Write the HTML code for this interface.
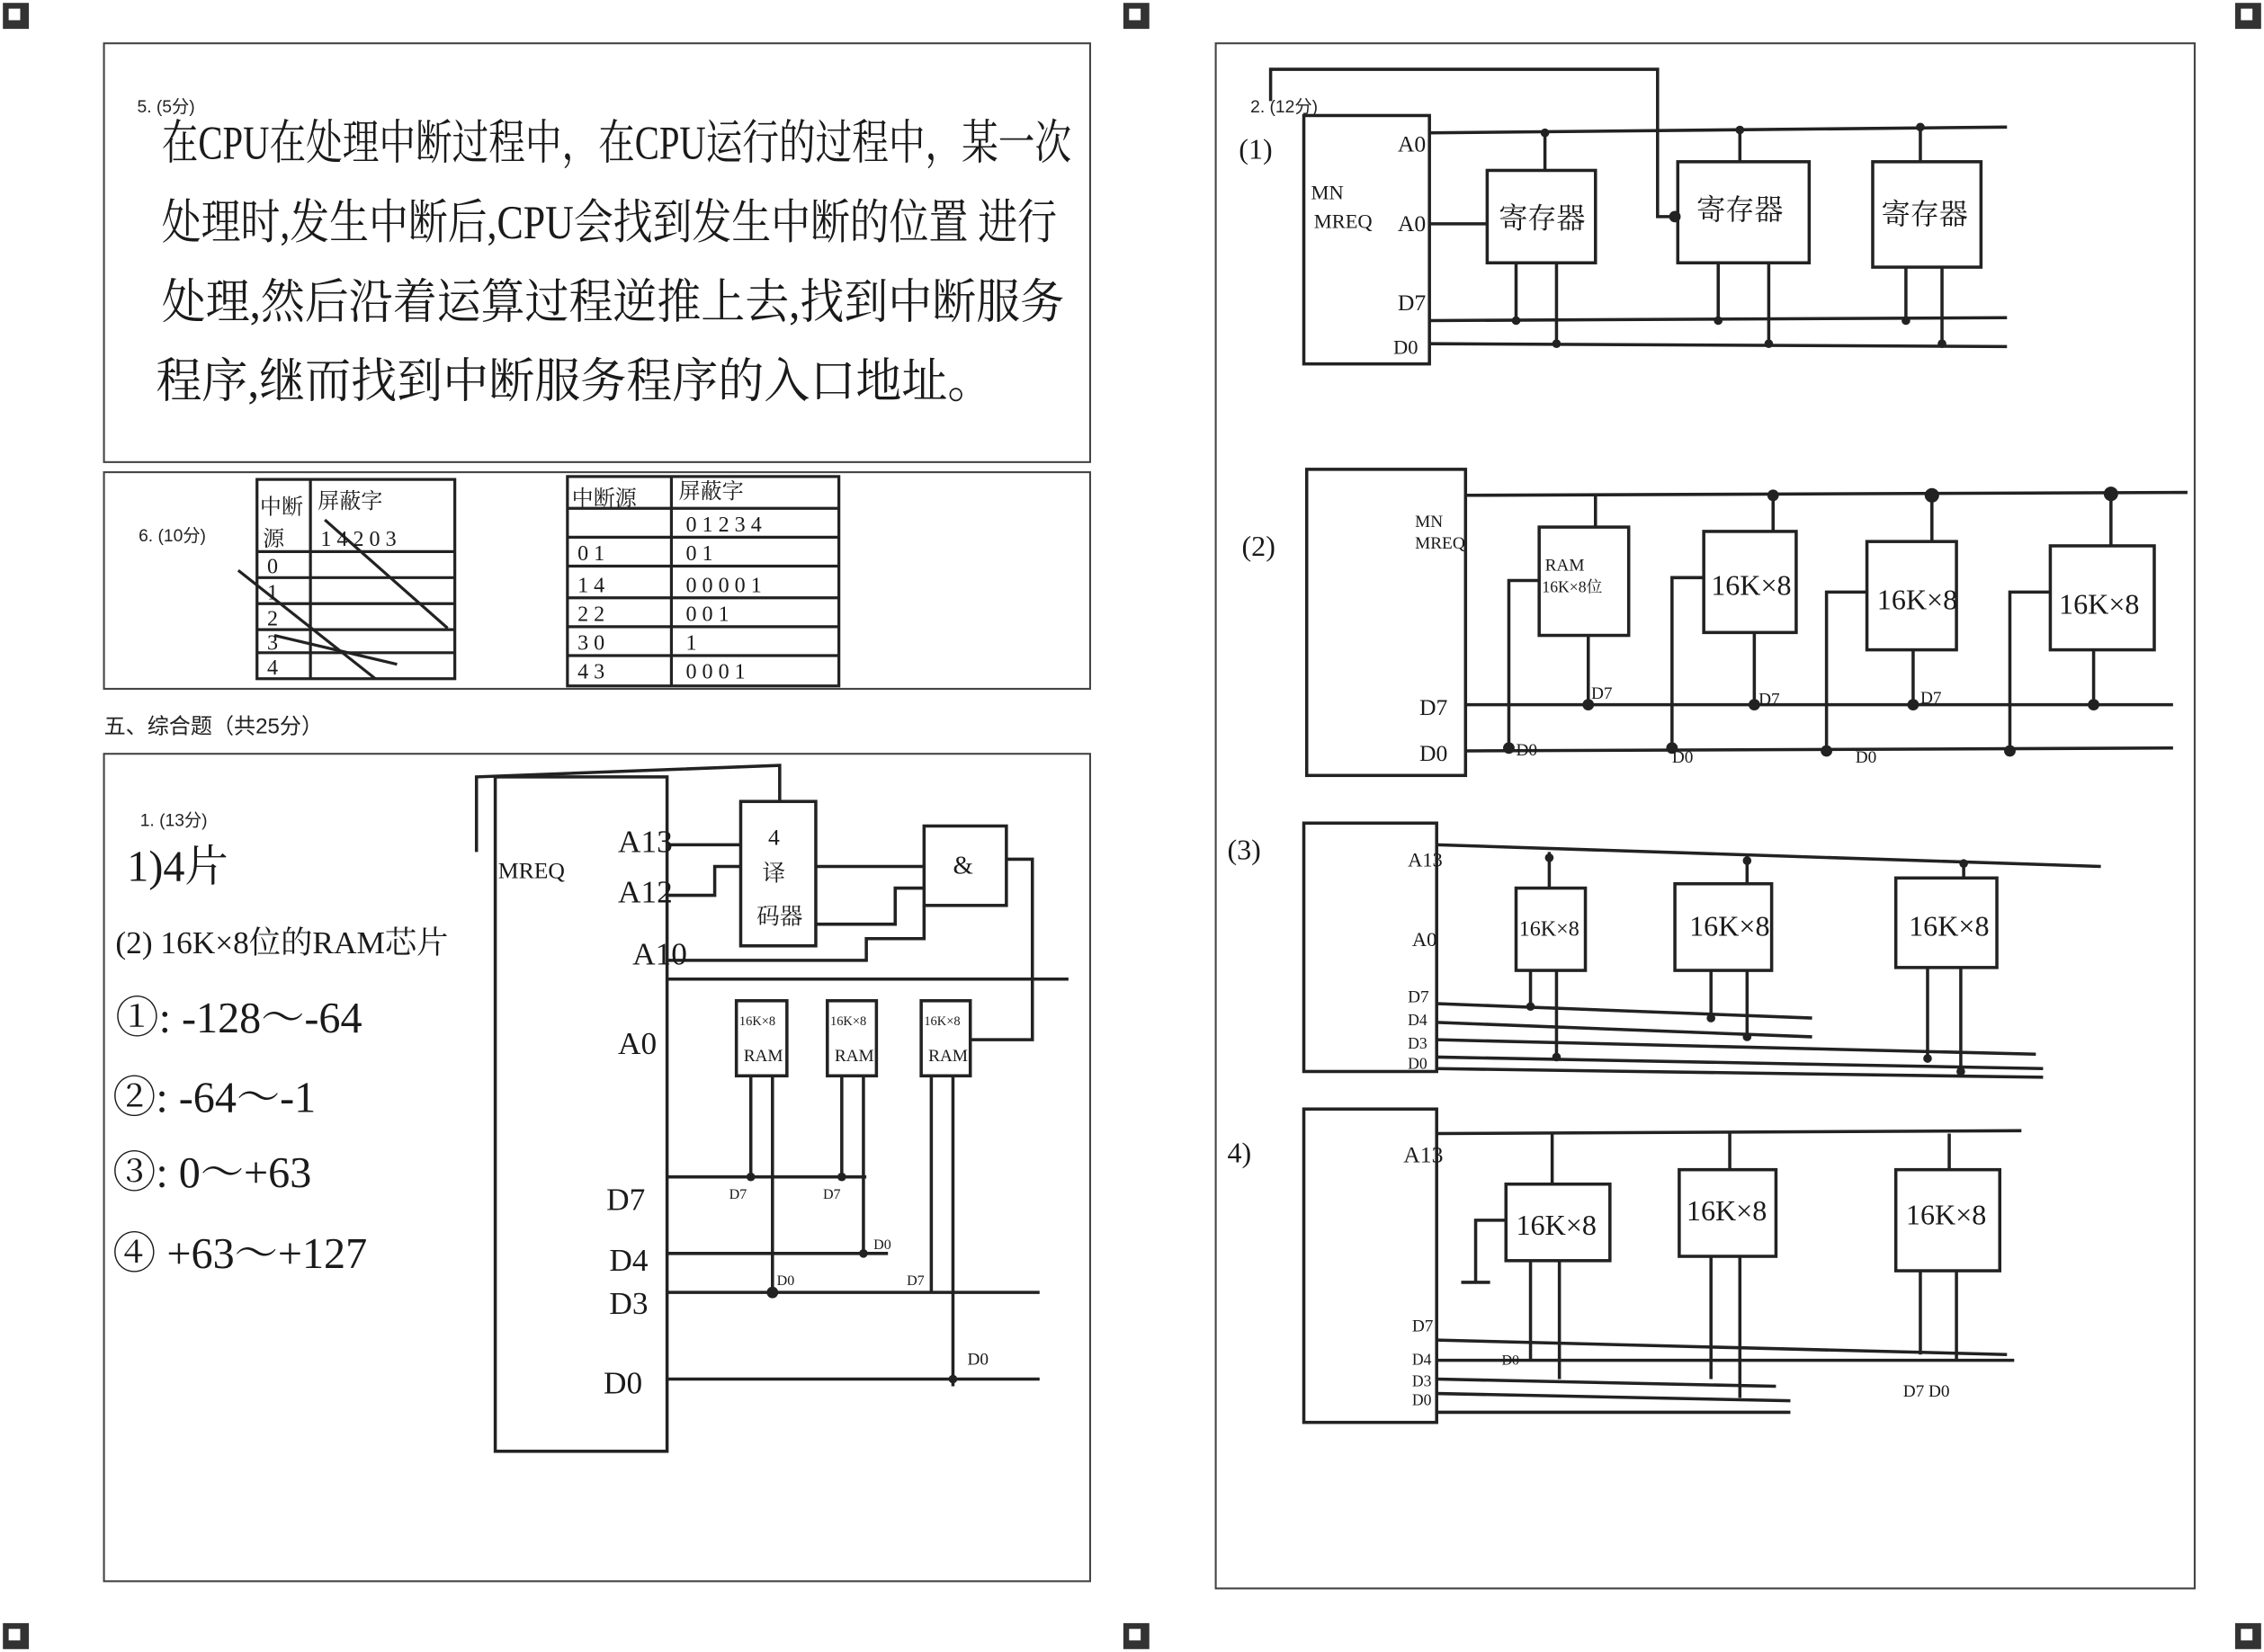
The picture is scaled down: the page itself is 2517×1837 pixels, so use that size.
<!DOCTYPE html>
<html><head><meta charset="utf-8"><style>
html,body{margin:0;padding:0;background:#fff;}
svg{display:block;}
text{font-family:"Liberation Sans","Noto Sans CJK SC",sans-serif;fill:#222;}
.h{font-family:"Liberation Serif","Noto Serif CJK SC","Noto Sans CJK SC",serif;fill:#1a1a1a;}
</style></head><body>
<svg width="2517" height="1837" viewBox="0 0 1568 1144" preserveAspectRatio="none" xmlns="http://www.w3.org/2000/svg">
<rect width="1568" height="1144" fill="#fff"/>
<g fill="#333">
<rect x="2" y="2" width="18" height="18"/><rect x="778" y="2" width="18" height="18"/><rect x="1548" y="2" width="18" height="18"/>
<rect x="2" y="1124" width="18" height="18"/><rect x="778" y="1124" width="18" height="18"/><rect x="1548" y="1124" width="18" height="18"/>
</g>
<g fill="#fff"><rect x="6" y="6" width="8" height="8"/><rect x="782" y="6" width="8" height="8"/><rect x="1552" y="6" width="8" height="8"/>
<rect x="6" y="1128" width="8" height="8"/><rect x="782" y="1128" width="8" height="8"/><rect x="1552" y="1128" width="8" height="8"/></g>

<g fill="none" stroke="#444" stroke-width="1.3">
<rect x="72" y="30" width="683" height="290"/>
<rect x="72" y="327" width="683" height="150"/>
<rect x="72" y="522" width="683" height="573"/>
<rect x="842" y="30" width="678" height="1070"/>
</g>
<text x="95" y="78" font-size="12">5. (5分)</text>
<text x="96" y="375" font-size="12">6. (10分)</text>
<text x="72" y="508" font-size="15">五、综合题（共25分）</text>
<text x="97" y="572" font-size="12">1. (13分)</text>
<text x="866" y="78" font-size="12">2. (12分)</text>

<g font-size="33">
<text class="h" x="112" y="110" textLength="630" lengthAdjust="spacingAndGlyphs">在CPU在处理中断过程中，在CPU运行的过程中，某一次</text>
<text class="h" x="112" y="165" textLength="620" lengthAdjust="spacingAndGlyphs">处理时,发生中断后,CPU会找到发生中断的位置 进行</text>
<text class="h" x="112" y="220" textLength="625" lengthAdjust="spacingAndGlyphs">处理,然后沿着运算过程逆推上去,找到中断服务</text>
<text class="h" x="108" y="275" textLength="580" lengthAdjust="spacingAndGlyphs">程序,继而找到中断服务程序的入口地址。</text>
</g>

<g stroke="#222" stroke-width="2" fill="none">
<rect x="178" y="332" width="137" height="138"/>
<line x1="215" y1="332" x2="215" y2="470"/>
<line x1="178" y1="382" x2="315" y2="382"/><line x1="178" y1="400" x2="315" y2="400"/>
<line x1="178" y1="418" x2="315" y2="418"/><line x1="178" y1="436" x2="315" y2="436"/><line x1="178" y1="452" x2="315" y2="452"/>
<line x1="165" y1="395" x2="260" y2="470"/><line x1="225" y1="360" x2="310" y2="435"/><line x1="190" y1="440" x2="275" y2="460"/>
<rect x="393" y="330" width="188" height="145"/>
<line x1="465" y1="330" x2="465" y2="475"/>
<line x1="393" y1="352" x2="581" y2="352"/><line x1="393" y1="372" x2="581" y2="372"/><line x1="393" y1="392" x2="581" y2="392"/>
<line x1="393" y1="414" x2="581" y2="414"/><line x1="393" y1="434" x2="581" y2="434"/><line x1="393" y1="454" x2="581" y2="454"/>
</g>
<g font-size="15">
<text class="h" x="180" y="356">中断</text><text class="h" x="220" y="352">屏蔽字</text>
<text class="h" x="182" y="378">源</text><text class="h" x="222" y="378">1 4 2 0 3</text>
<text class="h" x="185" y="397">0</text><text class="h" x="185" y="415">1</text><text class="h" x="185" y="433">2</text><text class="h" x="185" y="450">3</text><text class="h" x="185" y="467">4</text>
<text class="h" x="396" y="350">中断源</text><text class="h" x="470" y="345">屏蔽字</text><text class="h" x="475" y="368">0 1 2 3 4</text>
<text class="h" x="400" y="388">0 1</text><text class="h" x="475" y="388">0 1</text>
<text class="h" x="400" y="410">1 4</text><text class="h" x="475" y="410">0 0 0 0 1</text>
<text class="h" x="400" y="430">2 2</text><text class="h" x="475" y="430">0 0 1</text>
<text class="h" x="400" y="450">3 0</text><text class="h" x="475" y="450">1</text>
<text class="h" x="400" y="470">4 3</text><text class="h" x="475" y="470">0 0 0 1</text>
</g>

<g font-size="30">
<text class="h" x="88" y="610">1)4片</text>
<text class="h" x="80" y="660" font-size="22">(2) 16K×8位的RAM芯片</text>
<text class="h" x="80" y="715">①: -128～-64</text>
<text class="h" x="78" y="770">②: -64～-1</text>
<text class="h" x="78" y="822">③: 0～+63</text>
<text class="h" x="78" y="878">④ +63～+127</text>
</g>

<g stroke="#222" stroke-width="2.2" fill="none">
<rect x="343" y="538" width="119" height="467"/>
<polyline points="330,590 330,538 540,530 540,555"/>
<rect x="513" y="555" width="52" height="100"/>
<rect x="640" y="572" width="57" height="55"/>
<polyline points="462,585 513,585"/><polyline points="462,620 495,620 495,600 513,600"/>
<polyline points="565,600 640,600"/><polyline points="565,640 620,640 620,615 640,615"/>
<polyline points="462,665 600,665 600,650 640,650 640,627"/>
<line x1="462" y1="678" x2="740" y2="678"/>
<polyline points="697,595 715,595 715,720 672,720"/>
<rect x="510" y="693" width="35" height="52"/><rect x="573" y="693" width="34" height="52"/><rect x="638" y="693" width="34" height="52"/>
<line x1="520" y1="745" x2="520" y2="815"/><line x1="535" y1="745" x2="535" y2="895"/>
<line x1="583" y1="745" x2="583" y2="815"/><line x1="598" y1="745" x2="598" y2="868"/>
<line x1="645" y1="745" x2="645" y2="895"/><line x1="660" y1="745" x2="660" y2="960"/>
<line x1="462" y1="815" x2="600" y2="815"/><line x1="462" y1="868" x2="615" y2="868"/>
<line x1="462" y1="895" x2="720" y2="895"/><line x1="462" y1="955" x2="720" y2="955"/>
</g>
<g font-size="22"><text class="h" x="428" y="590">A13</text><text class="h" x="428" y="625">A12</text><text class="h" x="438" y="668">A10</text>
<text class="h" x="428" y="730">A0</text><text class="h" x="420" y="838">D7</text><text class="h" x="422" y="880">D4</text><text class="h" x="422" y="910">D3</text><text class="h" x="418" y="965">D0</text>
<text class="h" x="345" y="608" font-size="16">MREQ</text>
<text class="h" x="532" y="585" font-size="16">4</text><text class="h" x="528" y="610" font-size="16">译</text><text class="h" x="524" y="640" font-size="16">码器</text>
<text class="h" x="660" y="605" font-size="18">&amp;</text>
<text class="h" x="512" y="710" font-size="9">16K×8</text><text class="h" x="515" y="735" font-size="12">RAM</text>
<text class="h" x="575" y="710" font-size="9">16K×8</text><text class="h" x="578" y="735" font-size="12">RAM</text>
<text class="h" x="640" y="710" font-size="9">16K×8</text><text class="h" x="643" y="735" font-size="12">RAM</text>
<text class="h" x="505" y="830" font-size="10">D7</text><text class="h" x="570" y="830" font-size="10">D7</text><text class="h" x="605" y="865" font-size="10">D0</text>
<text class="h" x="538" y="890" font-size="10">D0</text><text class="h" x="628" y="890" font-size="10">D7</text><text class="h" x="670" y="945" font-size="12">D0</text>
</g>

<g stroke="#222" stroke-width="2.2" fill="none">
<rect x="903" y="80" width="87" height="172"/>
<polyline points="880,70 880,48 1148,48 1148,150 1162,150"/>
<line x1="990" y1="92" x2="1390" y2="88"/>
<rect x="1030" y="118" width="75" height="64"/><rect x="1162" y="112" width="91" height="70"/><rect x="1297" y="112" width="75" height="73"/>
<line x1="1070" y1="92" x2="1070" y2="118"/><line x1="1205" y1="90" x2="1205" y2="112"/><line x1="1330" y1="88" x2="1330" y2="112"/>
<line x1="990" y1="222" x2="1390" y2="220"/><line x1="990" y1="238" x2="1390" y2="240"/>
<line x1="1050" y1="182" x2="1050" y2="222"/><line x1="1078" y1="182" x2="1078" y2="238"/>
<line x1="1190" y1="182" x2="1190" y2="222"/><line x1="1225" y1="182" x2="1225" y2="238"/>
<line x1="1320" y1="185" x2="1320" y2="222"/><line x1="1345" y1="185" x2="1345" y2="238"/>
<line x1="990" y1="155" x2="1030" y2="155"/>
<rect x="905" y="325" width="110" height="212"/>
<line x1="1015" y1="343" x2="1515" y2="341"/>
<line x1="1015" y1="488" x2="1505" y2="488"/><line x1="1015" y1="520" x2="1505" y2="518"/>
<rect x="1066" y="365" width="62" height="75"/><rect x="1180" y="368" width="64" height="70"/><rect x="1293" y="375" width="62" height="75"/><rect x="1420" y="378" width="72" height="72"/>
<line x1="1105" y1="343" x2="1105" y2="365"/><line x1="1228" y1="343" x2="1228" y2="368"/><line x1="1338" y1="343" x2="1338" y2="375"/><line x1="1462" y1="343" x2="1462" y2="378"/>
<polyline points="1066,402 1045,402 1045,520"/><polyline points="1180,400 1158,400 1158,520"/><polyline points="1293,410 1265,410 1265,520"/><polyline points="1420,410 1392,410 1392,520"/>
<line x1="1100" y1="440" x2="1100" y2="488"/><line x1="1215" y1="438" x2="1215" y2="488"/><line x1="1325" y1="450" x2="1325" y2="488"/><line x1="1450" y1="450" x2="1450" y2="488"/>
<rect x="903" y="570" width="92" height="172"/>
<line x1="995" y1="585" x2="1455" y2="600"/>
<rect x="1050" y="615" width="48" height="57"/><rect x="1160" y="612" width="67" height="60"/><rect x="1313" y="608" width="70" height="62"/>
<line x1="1073" y1="590" x2="1073" y2="615"/><line x1="1210" y1="592" x2="1210" y2="612"/><line x1="1360" y1="596" x2="1360" y2="608"/>
<line x1="995" y1="695" x2="1255" y2="705"/><line x1="995" y1="708" x2="1255" y2="718"/><line x1="995" y1="720" x2="1410" y2="730"/><line x1="995" y1="732" x2="1415" y2="740"/><line x1="995" y1="740" x2="1415" y2="746"/>
<line x1="1060" y1="672" x2="1060" y2="697"/><line x1="1078" y1="672" x2="1078" y2="732"/>
<line x1="1185" y1="672" x2="1185" y2="705"/><line x1="1210" y1="672" x2="1210" y2="718"/>
<line x1="1335" y1="670" x2="1335" y2="733"/><line x1="1358" y1="670" x2="1358" y2="742"/>
<rect x="903" y="768" width="92" height="217"/>
<line x1="995" y1="785" x2="1400" y2="783"/>
<rect x="1043" y="820" width="72" height="53"/><rect x="1163" y="810" width="67" height="60"/><rect x="1313" y="810" width="72" height="70"/>
<line x1="1075" y1="785" x2="1075" y2="820"/><line x1="1198" y1="785" x2="1198" y2="810"/><line x1="1350" y1="785" x2="1350" y2="810"/>
<polyline points="1043,845 1022,845 1022,888"/><line x1="1012" y1="888" x2="1032" y2="888"/>
<line x1="995" y1="928" x2="1390" y2="938"/><line x1="995" y1="942" x2="1395" y2="942"/><line x1="995" y1="955" x2="1230" y2="960"/><line x1="995" y1="965" x2="1240" y2="970"/><line x1="995" y1="978" x2="1240" y2="978"/>
<line x1="1060" y1="873" x2="1060" y2="942"/><line x1="1080" y1="873" x2="1080" y2="955"/>
<line x1="1185" y1="870" x2="1185" y2="955"/><line x1="1205" y1="870" x2="1205" y2="968"/>
<line x1="1330" y1="880" x2="1330" y2="938"/><line x1="1355" y1="880" x2="1355" y2="942"/>
</g>
<g fill="#222">
<circle cx="1160" cy="150" r="4"/><circle cx="1070" cy="92" r="3"/><circle cx="1205" cy="90" r="3"/><circle cx="1330" cy="88" r="3"/>
<circle cx="1050" cy="222" r="3"/><circle cx="1078" cy="238" r="3"/><circle cx="1190" cy="222" r="3"/><circle cx="1225" cy="238" r="3"/><circle cx="1320" cy="222" r="3"/><circle cx="1345" cy="238" r="3"/>
<circle cx="1228" cy="343" r="4"/><circle cx="1338" cy="343" r="5"/><circle cx="1462" cy="342" r="5"/>
<circle cx="1045" cy="518" r="4"/><circle cx="1158" cy="518" r="4"/><circle cx="1265" cy="520" r="4"/><circle cx="1392" cy="520" r="4"/>
<circle cx="1100" cy="488" r="4"/><circle cx="1215" cy="488" r="4"/><circle cx="1325" cy="488" r="4"/><circle cx="1450" cy="488" r="4"/>
<circle cx="1073" cy="594" r="3"/><circle cx="1210" cy="596" r="3"/><circle cx="1360" cy="598" r="3"/>
<circle cx="1060" cy="697" r="3"/><circle cx="1078" cy="732" r="3"/><circle cx="1185" cy="705" r="3"/><circle cx="1210" cy="718" r="3"/><circle cx="1335" cy="733" r="3"/><circle cx="1358" cy="742" r="3"/>
<circle cx="520" cy="815" r="3"/><circle cx="583" cy="815" r="3"/><circle cx="535" cy="895" r="4"/><circle cx="598" cy="868" r="3"/><circle cx="660" cy="955" r="3"/>
</g>
<g font-size="20">
<text class="h" x="858" y="110">(1)</text><text class="h" x="860" y="385">(2)</text><text class="h" x="850" y="595">(3)</text><text class="h" x="850" y="805">4)</text>
<text class="h" x="968" y="105" font-size="16">A0</text><text class="h" x="968" y="160" font-size="16">A0</text>
<text class="h" x="968" y="215" font-size="16">D7</text><text class="h" x="965" y="245" font-size="14">D0</text>
<text class="h" x="908" y="138" font-size="14">MN</text><text class="h" x="910" y="158" font-size="14">MREQ</text>
<text class="h" x="1038" y="158" font-size="20">寄存器</text><text class="h" x="1175" y="152" font-size="20">寄存器</text><text class="h" x="1303" y="155" font-size="20">寄存器</text>
<text class="h" x="980" y="365" font-size="12">MN</text><text class="h" x="980" y="380" font-size="12">MREQ</text>
<text class="h" x="983" y="495" font-size="16">D7</text><text class="h" x="983" y="527" font-size="16">D0</text>
<text class="h" x="1070" y="395" font-size="12">RAM</text><text class="h" x="1068" y="410" font-size="11">16K×8位</text>
<text class="h" x="1185" y="412" font-size="20">16K×8</text><text class="h" x="1300" y="422" font-size="20">16K×8</text><text class="h" x="1426" y="425" font-size="20">16K×8</text>
<text class="h" x="1050" y="523" font-size="12">D0</text><text class="h" x="1158" y="528" font-size="12">D0</text><text class="h" x="1285" y="528" font-size="12">D0</text>
<text class="h" x="1102" y="484" font-size="12">D7</text><text class="h" x="1218" y="488" font-size="12">D7</text><text class="h" x="1330" y="487" font-size="12">D7</text>
<text class="h" x="975" y="600" font-size="14">A13</text><text class="h" x="978" y="655" font-size="14">A0</text>
<text class="h" x="975" y="694" font-size="12">D7</text><text class="h" x="975" y="710" font-size="11">D4</text><text class="h" x="975" y="726" font-size="11">D3</text><text class="h" x="975" y="740" font-size="11">D0</text>
<text class="h" x="1052" y="648" font-size="15">16K×8</text><text class="h" x="1170" y="648" font-size="20">16K×8</text><text class="h" x="1322" y="648" font-size="20">16K×8</text>
<text class="h" x="972" y="805" font-size="16">A13</text>
<text class="h" x="978" y="922" font-size="12">D7</text><text class="h" x="978" y="945" font-size="11">D4</text><text class="h" x="978" y="960" font-size="11">D3</text><text class="h" x="978" y="973" font-size="11">D0</text>
<text class="h" x="1050" y="855" font-size="20">16K×8</text><text class="h" x="1168" y="845" font-size="20">16K×8</text><text class="h" x="1320" y="848" font-size="20">16K×8</text>
<text class="h" x="1040" y="945" font-size="10">D0</text><text class="h" x="1318" y="967" font-size="12">D7 D0</text>
</g>
</svg>
</body></html>
